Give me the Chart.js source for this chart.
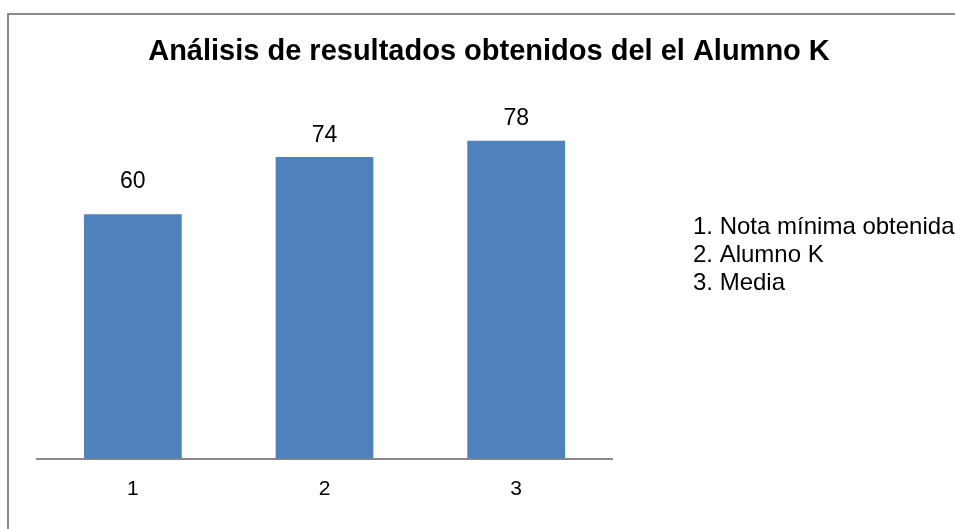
<!DOCTYPE html>
<html>
<head>
<meta charset="utf-8">
<script src="https://cdn.jsdelivr.net/npm/chart.js"></script>
<style>
  html, body { margin: 0; padding: 0; background: #fff; overflow: hidden; }
  #wrap { position: relative; width: 955px; height: 529px; }
  #frame { position: absolute; left: 7px; top: 13px; width: 1000px; height: 600px;
           border: 2px solid #8a8a8a; box-sizing: border-box; }
  canvas { position: absolute; left: 0; top: 0; }
</style>
</head>
<body>
<div id="wrap">
  <div id="frame"></div>
  <canvas id="chart" width="955" height="529"></canvas>
</div>
<script>
// data
const categories = ['1', '2', '3'];
const values = [60, 74, 78];
const notes = ['1. Nota mínima obtenida', '2. Alumno K', '3. Media'];
const titleText = 'Análisis de resultados obtenidos del el Alumno K';

const FONT = "'Liberation Sans', Arial, sans-serif";

// value labels over the bars
const valueLabels = {
  id: 'valueLabels',
  afterDatasetsDraw(chart, args, opts) {
    const ctx = chart.ctx;
    const meta = chart.getDatasetMeta(0);
    ctx.save();
    ctx.font = '23px ' + FONT;
    ctx.fillStyle = '#000';
    ctx.textAlign = 'center';
    ctx.textBaseline = 'alphabetic';
    meta.data.forEach((bar, i) => {
      ctx.fillText(String(values[i]), bar.x, bar.y - opts.gaps[i]);
    });
    ctx.restore();
  }
};

// text-only legend on the right
const sideNotes = {
  id: 'sideNotes',
  afterDraw(chart, args, opts) {
    const ctx = chart.ctx;
    const area = chart.chartArea;
    ctx.save();
    ctx.font = '24px ' + FONT;
    ctx.fillStyle = '#000';
    ctx.textAlign = 'left';
    ctx.textBaseline = 'alphabetic';
    notes.forEach((t, i) => {
      ctx.fillText(t, area.right + opts.dx, area.top + opts.dy + i * opts.lineHeight);
    });
    ctx.restore();
  }
};

new Chart(document.getElementById('chart'), {
  type: 'bar',
  data: {
    labels: categories,
    datasets: [{
      data: values,
      backgroundColor: '#4f81bd',
      borderWidth: 0,
      barPercentage: 0.51,
      categoryPercentage: 1
    }]
  },
  options: {
    responsive: false,
    animation: false,
    layout: { padding: { left: 37, right: 14, top: 0, bottom: 9 } },
    plugins: {
      legend: { display: false },
      tooltip: { enabled: false },
      title: {
        display: true,
        text: titleText,
        color: '#000',
        font: { family: FONT, size: 29, weight: 'bold' },
        padding: { top: 35, bottom: 22 }
      },
      valueLabels: { gaps: [26, 15, 16] },
      sideNotes: { dx: 81, dy: 142, lineHeight: 28 }
    },
    scales: {
      x: {
        grid: { display: false, drawTicks: false },
        border: { display: true, color: '#8a8a8a', width: 2 },
        ticks: { color: '#000', font: { family: FONT, size: 21 }, padding: 18 }
      },
      y: {
        position: 'right',
        min: 0,
        max: 90,
        grid: { display: false, drawTicks: false },
        border: { display: false },
        ticks: { display: false },
        afterFit: (scale) => { scale.width = 329; }
      }
    }
  },
  plugins: [valueLabels, sideNotes]
});
</script>
</body>
</html>
